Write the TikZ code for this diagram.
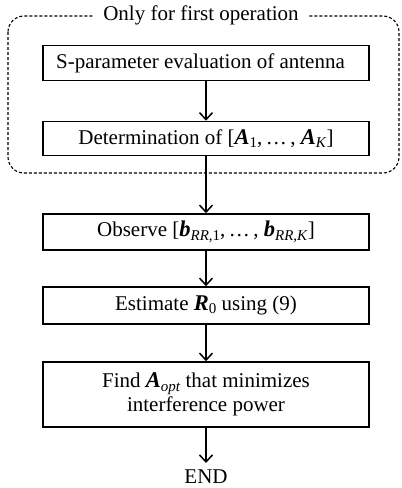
\documentclass[tikz,border=0pt]{standalone}
\usepackage{fontspec}
\setmainfont{Liberation Serif}
\usetikzlibrary{arrows.meta}
% bold-italic symbol, small subscript and spaced ellipsis helpers
\newcommand{\bsym}[1]{{\fontsize{22.5}{24}\selectfont\textbf{\textit{#1}}}}
\newcommand{\sbs}[1]{\raisebox{-0.35ex}{\fontsize{15}{15}\selectfont #1}}
\newcommand{\dotsep}{\,\ldots\,}
\begin{document}
\begin{tikzpicture}[x=1pt,y=-1pt,
  txt/.style={font=\fontsize{21}{24}\selectfont},
  stepbox/.style={draw, line width=1.6pt, minimum width=326pt, inner sep=0pt,
    align=center, txt},
  flow/.style={line width=1.5pt, -{Straight Barb[length=7pt,width=13pt,line width=1.5pt]}},
  group/.style={draw, dash pattern=on 3pt off 2pt, line width=1.1pt, rounded corners=16pt}]
\useasboundingbox (0,0) rectangle (402,488);
\fill[white] (0,0) rectangle (402,488);

\draw[group] (8,16) rectangle (399,173);
\node[fill=white, inner xsep=9pt, txt] (grp) at (201,15) {Only for first operation};

\node[stepbox, minimum height=35pt] (s1) at (206,63) {S-parameter evaluation of antenna\hspace{11pt}};
\node[stepbox, minimum height=34pt] (s2) at (206,138.5) {Determination of [\bsym{A}\sbs{1},\dotsep, \bsym{A}\sbs{\textit{K}}]};
\node[stepbox, minimum height=36pt] (s3) at (206,232) {Observe [\bsym{b}\sbs{\textit{RR},1},\dotsep, \bsym{b}\sbs{\textit{RR},\textit{K}}]};
\node[stepbox, minimum height=37pt] (s4) at (206,305.5) {Estimate \bsym{R}\sbs{0} using (9)};
\node[stepbox, minimum height=65pt] (s5) at (206,394.5) {Find \bsym{A}\sbs{\textit{opt}} that minimizes\\interference power};
\node[txt, inner sep=0pt, anchor=base] (end) at (206,483.5) {END};

\draw[flow] (s1) -- (s2);
\draw[flow] (s2) -- (s3);
\draw[flow] (s3) -- (s4);
\draw[flow] (s4) -- (s5);
\draw[flow] (s5.south) -- (206,463);
\end{tikzpicture}
\end{document}
